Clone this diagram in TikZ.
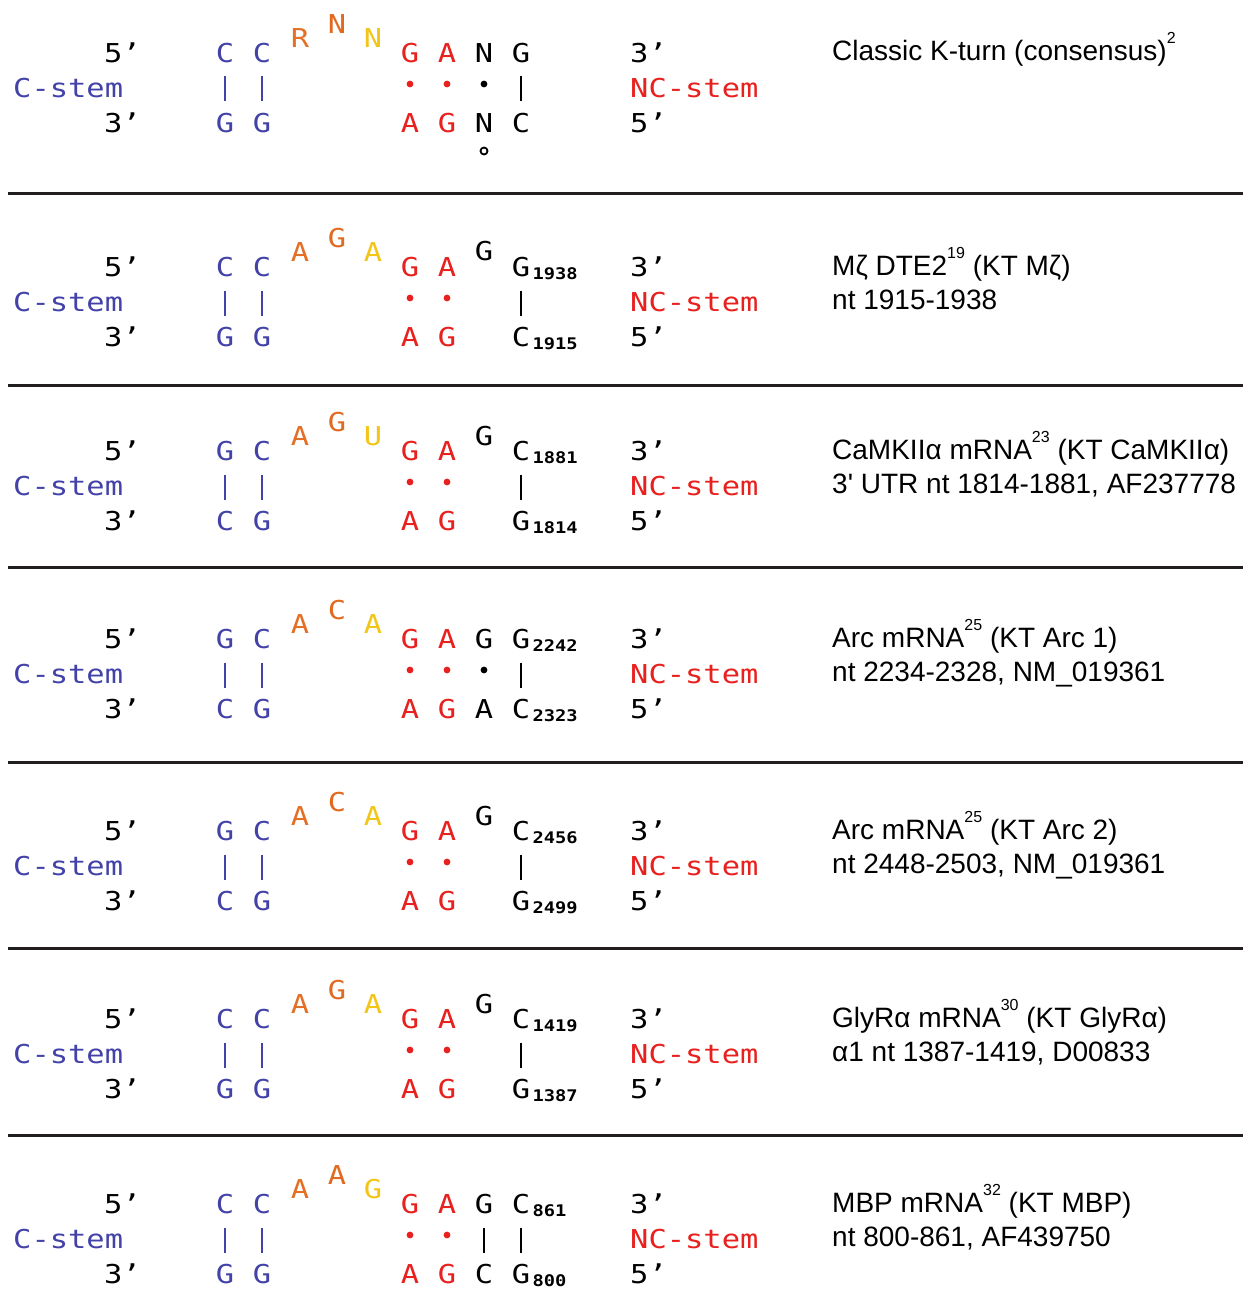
\documentclass[tikz,border=0pt]{standalone}
\usepackage{fontspec}
\setmainfont{Liberation Sans}
\newfontfamily\seqfont[FakeStretch=1.17]{DejaVu Sans Mono}

\definecolor{cblue}{RGB}{66,66,168}
\definecolor{ncred}{RGB}{232,32,30}
\definecolor{loopa}{RGB}{228,112,38}
\definecolor{loopb}{RGB}{226,106,32}
\definecolor{loopc}{RGB}{242,198,24}
\definecolor{rulegray}{RGB}{34,30,30}

% superscript reference numbers in the descriptions
\newcommand\sups[1]{\raisebox{17pt}{\fontsize{16}{16}\selectfont #1}}

% end labels and stem names of one K-turn panel (#1 = prefix, #2 = centre of the top row)
\newcommand\ktframe[2]{%
  \node[endlab, anchor=base east] (#1-5a) at (141,#2+9.5) {5’};
  \node[stemlab, text=cblue, anchor=base west] (#1-cs) at (13,#2+44.5) {C-stem};
  \node[endlab, anchor=base east] (#1-3a) at (141,#2+79.5) {3’};
  \node[endlab, anchor=base west] (#1-3b) at (630,#2+9.5) {3’};
  \node[stemlab, text=ncred, anchor=base west] (#1-ncs) at (630,#2+44.5) {NC-stem};
  \node[endlab, anchor=base west] (#1-5b) at (630,#2+79.5) {5’};
}
% the two C-stem pairs
\newcommand\ktcstem[6]{%
  \node[nt, text=cblue] (#1-t1) at (225,#2+9.5) {#3};
  \node[nt, text=cblue] (#1-t2) at (262,#2+9.5) {#4};
  \node[nt, text=cblue] (#1-b1) at (225,#2+79.5) {#5};
  \node[nt, text=cblue] (#1-b2) at (262,#2+79.5) {#6};
  \draw[pairbar, cblue] (#1-t1.base) -- (#1-b1.base);
  \draw[pairbar, cblue] (#1-t2.base) -- (#1-b2.base);
}
% the three-nucleotide loop
\newcommand\ktloop[5]{%
  \node[nt, text=loopa] (#1-l1) at (300,#2-5.5) {#3};
  \node[nt, text=loopb] (#1-l2) at (337,#2-19.5) {#4};
  \node[nt, text=loopc] (#1-l3) at (373,#2-5.5) {#5};
}
% the two sheared G*A pairs
\newcommand\ktga[2]{%
  \node[nt, text=ncred] (#1-t5) at (410,#2+9.5) {G};
  \node[nt, text=ncred] (#1-t6) at (447,#2+9.5) {A};
  \node[nt, text=ncred] (#1-b5) at (410,#2+79.5) {A};
  \node[nt, text=ncred] (#1-b6) at (447,#2+79.5) {G};
  \fill[ncred] (410,#2+31) circle (3.4);
  \fill[ncred] (447,#2+31) circle (3.4);
}
% two lines of description at the right
\newcommand\ktdesc[4]{%
  \node[desc] (#1-d1) at (832,#2+8) {#3};
  \node[desc] (#1-d2) at (832,#2+42) {#4};
}

\begin{document}
\begin{tikzpicture}[x=1pt,y=-1pt,
  nt/.style={font=\seqfont\fontsize{26}{26}\selectfont, inner sep=0pt, anchor=base},
  endlab/.style={nt},
  stemlab/.style={nt},
  subn/.style={font=\seqfont\bfseries\fontsize{16}{16}\selectfont, inner sep=0pt, anchor=base west},
  pairbar/.style={line width=2.8pt, shorten <=14pt, shorten >=31pt},
  desc/.style={font=\fontsize{28}{28}\selectfont, inner sep=0pt, anchor=base west},
  rule/.style={line width=3pt, rulegray}]
\useasboundingbox (0,0) rectangle (1251,1289);
\fill[white] (0,0) rectangle (1251,1289);

% panel separators
\foreach \yy in {194,385,567,762,948,1135}
  \draw[rule] (8,\yy) -- (1243,\yy);

% ---- classic K-turn consensus
\ktframe{p1}{53}
\ktcstem{p1}{53}{C}{C}{G}{G}
\ktloop{p1}{53}{R}{N}{N}
\ktga{p1}{53}
\node[nt] (p1-t7) at (484,62.5) {N};
\node[nt] (p1-t4) at (521,62.5) {G};
\node[nt] (p1-b7) at (484,132.5) {N};
\node[nt] (p1-b4) at (521,132.5) {C};
\fill (484,84) circle (3.4);
\draw[pairbar] (p1-t4.base) -- (p1-b4.base);
\node[draw, circle, line width=1.8pt, inner sep=0pt, minimum size=7pt] (p1-o) at (484,151) {};
\ktdesc{p1}{53}{Classic K-turn (consensus)\sups{2}}{}

% ---- Mzeta DTE2
\ktframe{p2}{267}
\ktcstem{p2}{267}{C}{C}{G}{G}
\ktloop{p2}{267}{A}{G}{A}
\ktga{p2}{267}
\node[nt] (p2-bg) at (484,261) {G};
\node[nt] (p2-t4) at (521,276.5) {G};
\node[subn] (p2-t4s) at ([xshift=2pt,yshift=-3pt]p2-t4.base east) {1938};
\node[nt] (p2-b4) at (521,346.5) {C};
\node[subn] (p2-b4s) at ([xshift=2pt,yshift=-3pt]p2-b4.base east) {1915};
\draw[pairbar] (p2-t4.base) -- (p2-b4.base);
\ktdesc{p2}{267}{Mζ DTE2\sups{19} (KT Mζ)}{nt 1915-1938}

% ---- CaMKII alpha
\ktframe{p3}{451}
\ktcstem{p3}{451}{G}{C}{C}{G}
\ktloop{p3}{451}{A}{G}{U}
\ktga{p3}{451}
\node[nt] (p3-bg) at (484,445) {G};
\node[nt] (p3-t4) at (521,460.5) {C};
\node[subn] (p3-t4s) at ([xshift=2pt,yshift=-3pt]p3-t4.base east) {1881};
\node[nt] (p3-b4) at (521,530.5) {G};
\node[subn] (p3-b4s) at ([xshift=2pt,yshift=-3pt]p3-b4.base east) {1814};
\draw[pairbar] (p3-t4.base) -- (p3-b4.base);
\ktdesc{p3}{451}{CaMKIIα mRNA\sups{23} (KT CaMKIIα)}{3\textquotesingle{} UTR nt 1814-1881, AF237778}

% ---- Arc 1
\ktframe{p4}{639}
\ktcstem{p4}{639}{G}{C}{C}{G}
\ktloop{p4}{639}{A}{C}{A}
\ktga{p4}{639}
\node[nt] (p4-t7) at (484,648.5) {G};
\node[nt] (p4-b7) at (484,718.5) {A};
\fill (484,670) circle (3.4);
\node[nt] (p4-t4) at (521,648.5) {G};
\node[subn] (p4-t4s) at ([xshift=2pt,yshift=-3pt]p4-t4.base east) {2242};
\node[nt] (p4-b4) at (521,718.5) {C};
\node[subn] (p4-b4s) at ([xshift=2pt,yshift=-3pt]p4-b4.base east) {2323};
\draw[pairbar] (p4-t4.base) -- (p4-b4.base);
\ktdesc{p4}{639}{Arc mRNA\sups{25} (KT Arc 1)}{nt 2234-2328, NM\_019361}

% ---- Arc 2
\ktframe{p5}{831}
\ktcstem{p5}{831}{G}{C}{C}{G}
\ktloop{p5}{831}{A}{C}{A}
\ktga{p5}{831}
\node[nt] (p5-bg) at (484,825) {G};
\node[nt] (p5-t4) at (521,840.5) {C};
\node[subn] (p5-t4s) at ([xshift=2pt,yshift=-3pt]p5-t4.base east) {2456};
\node[nt] (p5-b4) at (521,910.5) {G};
\node[subn] (p5-b4s) at ([xshift=2pt,yshift=-3pt]p5-b4.base east) {2499};
\draw[pairbar] (p5-t4.base) -- (p5-b4.base);
\ktdesc{p5}{831}{Arc mRNA\sups{25} (KT Arc 2)}{nt 2448-2503, NM\_019361}

% ---- GlyR alpha
\ktframe{p6}{1019}
\ktcstem{p6}{1019}{C}{C}{G}{G}
\ktloop{p6}{1019}{A}{G}{A}
\ktga{p6}{1019}
\node[nt] (p6-bg) at (484,1013) {G};
\node[nt] (p6-t4) at (521,1028.5) {C};
\node[subn] (p6-t4s) at ([xshift=2pt,yshift=-3pt]p6-t4.base east) {1419};
\node[nt] (p6-b4) at (521,1098.5) {G};
\node[subn] (p6-b4s) at ([xshift=2pt,yshift=-3pt]p6-b4.base east) {1387};
\draw[pairbar] (p6-t4.base) -- (p6-b4.base);
\ktdesc{p6}{1019}{GlyRα mRNA\sups{30} (KT GlyRα)}{α1 nt 1387-1419, D00833}

% ---- MBP
\ktframe{p7}{1204}
\ktcstem{p7}{1204}{C}{C}{G}{G}
\ktloop{p7}{1204}{A}{A}{G}
\ktga{p7}{1204}
\node[nt] (p7-t7) at (484,1213.5) {G};
\node[nt] (p7-b7) at (484,1283.5) {C};
\draw[pairbar] (p7-t7.base) -- (p7-b7.base);
\node[nt] (p7-t4) at (521,1213.5) {C};
\node[subn] (p7-t4s) at ([xshift=2pt,yshift=-3pt]p7-t4.base east) {861};
\node[nt] (p7-b4) at (521,1283.5) {G};
\node[subn] (p7-b4s) at ([xshift=2pt,yshift=-3pt]p7-b4.base east) {800};
\draw[pairbar] (p7-t4.base) -- (p7-b4.base);
\ktdesc{p7}{1204}{MBP mRNA\sups{32} (KT MBP)}{nt 800-861, AF439750}
\end{tikzpicture}
\end{document}
